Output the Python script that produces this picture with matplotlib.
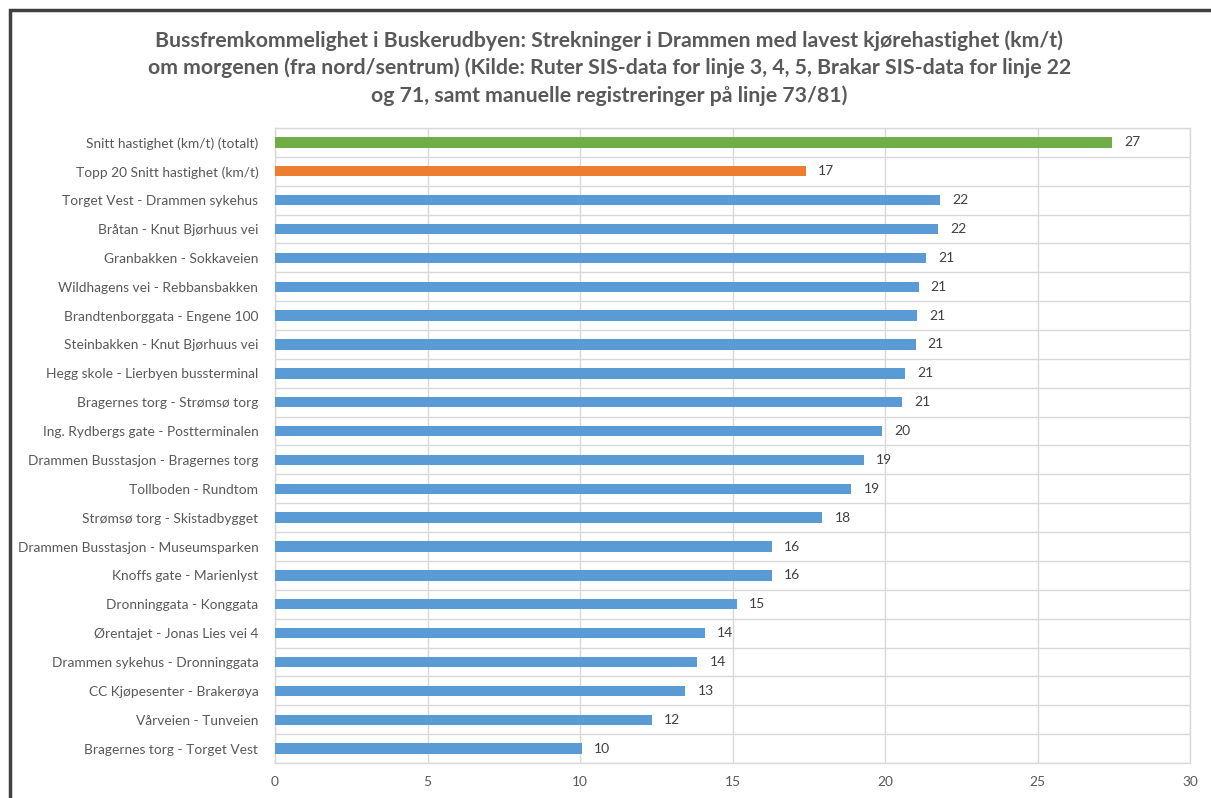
import matplotlib
matplotlib.use('Agg')
import matplotlib.pyplot as plt
from matplotlib.patches import Rectangle

plt.rcParams['font.family'] = ['Lato', 'DejaVu Sans']

strekninger = [
    'Snitt hastighet (km/t) (totalt)',
    'Topp 20 Snitt hastighet (km/t)',
    'Torget Vest - Drammen sykehus',
    'Bråtan - Knut Bjørhuus vei',
    'Granbakken - Sokkaveien',
    'Wildhagens vei - Rebbansbakken',
    'Brandtenborggata - Engene 100',
    'Steinbakken - Knut Bjørhuus vei',
    'Hegg skole - Lierbyen bussterminal',
    'Bragernes torg - Strømsø torg',
    'Ing. Rydbergs gate - Postterminalen',
    'Drammen Busstasjon - Bragernes torg',
    'Tollboden - Rundtom',
    'Strømsø torg - Skistadbygget',
    'Drammen Busstasjon - Museumsparken',
    'Knoffs gate - Marienlyst',
    'Dronninggata - Konggata',
    'Ørentajet - Jonas Lies vei 4',
    'Drammen sykehus - Dronninggata',
    'CC Kjøpesenter - Brakerøya',
    'Vårveien - Tunveien',
    'Bragernes torg - Torget Vest',
]
hastighet = [27.45, 17.4, 21.8, 21.75, 21.35, 21.1, 21.05, 21.0, 20.65, 20.55,
             19.9, 19.3, 18.9, 17.95, 16.3, 16.3, 15.15, 14.1, 13.85, 13.45,
             12.35, 10.05]
farger = ['#70ad47', '#ed7d31'] + ['#5b9bd5'] * (len(strekninger) - 2)

tittel = ('Bussfremkommelighet i Buskerudbyen: Strekninger i Drammen med lavest kjørehastighet (km/t)\n'
          'om morgenen (fra nord/sentrum) (Kilde: Ruter SIS-data for linje 3, 4, 5, Brakar SIS-data for linje 22\n'
          'og 71, samt manuelle registreringer på linje 73/81)')

fig = plt.figure(figsize=(12.11, 7.98), dpi=100)
ax = fig.add_axes([275 / 1211, 35 / 798, 915 / 1211, 635 / 798])

n = len(strekninger)
ypos = list(range(n))
ax.barh(ypos, hastighet, height=0.36, color=farger, zorder=3)
for y, v in zip(ypos, hastighet):
    ax.text(v + 0.4, y, '{:.0f}'.format(v), va='center', ha='left',
            fontsize=10, color='#404040')

ax.set_xlim(0, 30)
ax.set_ylim(n - 0.5, -0.5)
ax.set_xticks(range(0, 31, 5))
ax.set_yticks(ypos)
ax.set_yticklabels(strekninger)
ax.tick_params(axis='both', length=0, labelsize=9.9, colors='#595959')
ax.tick_params(axis='y', pad=12)
ax.tick_params(axis='x', pad=9)

grid = '#d9d9d9'
ax.grid(axis='x', color=grid, linewidth=1, zorder=0)
for b in range(n + 1):
    ax.axhline(b - 0.5, color=grid, linewidth=1, zorder=0)
for s in ax.spines.values():
    s.set_color(grid)
    s.set_linewidth(1)

fig.text(0.503, 0.962, tittel, ha='center', va='top', fontsize=15.3,
         fontweight='bold', color='#595959', linespacing=1.42)

# dark frame round the chart
fig.patches.append(Rectangle((10 / 1211, -0.1), 1.2, 1 - 10 / 798 + 0.1,
                             transform=fig.transFigure, fill=False,
                             edgecolor='#404040', linewidth=2.5))

fig.savefig('out.png', dpi=100, facecolor='white')
